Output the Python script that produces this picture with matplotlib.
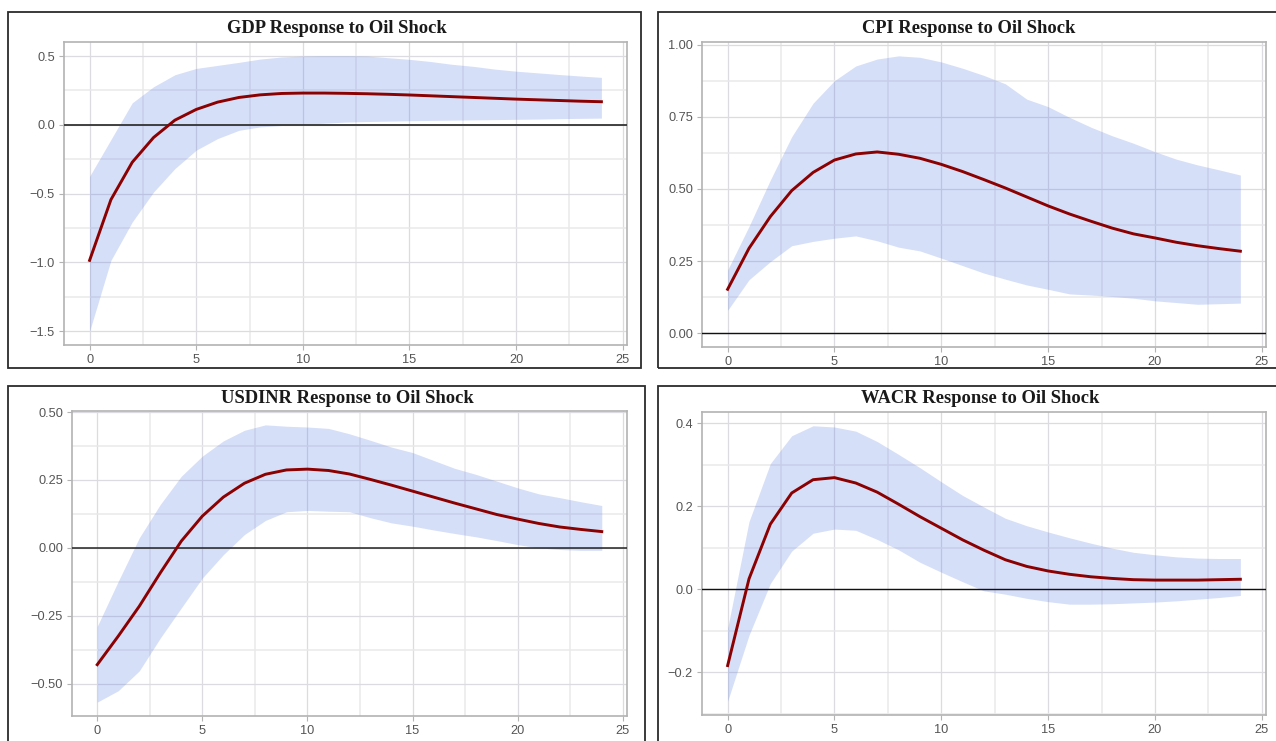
import matplotlib
matplotlib.use("Agg")
import matplotlib.pyplot as plt
from matplotlib.patches import Rectangle

W, H = 1276, 741

horizon = list(range(25))

titles = ["GDP Response to Oil Shock", "CPI Response to Oil Shock",
          "USDINR Response to Oil Shock", "WACR Response to Oil Shock"]

gdp_mean = [-0.985, -0.544, -0.272, -0.092, 0.034, 0.112, 0.165, 0.199, 0.218, 0.228,
            0.231, 0.231, 0.229, 0.226, 0.222, 0.217, 0.211, 0.205, 0.199, 0.193,
            0.187, 0.182, 0.177, 0.172, 0.168]
gdp_lower = [-1.50, -0.985, -0.706, -0.488, -0.318, -0.184, -0.100, -0.040, -0.015, -0.005,
             0.003, 0.012, 0.020, 0.024, 0.027, 0.030, 0.032, 0.034, 0.036, 0.038,
             0.040, 0.042, 0.045, 0.047, 0.049]
gdp_upper = [-0.374, -0.107, 0.160, 0.277, 0.364, 0.410, 0.432, 0.454, 0.478, 0.493,
             0.500, 0.502, 0.502, 0.500, 0.488, 0.476, 0.460, 0.440, 0.425, 0.405,
             0.390, 0.378, 0.366, 0.355, 0.345]

cpi_mean = [0.152, 0.294, 0.404, 0.494, 0.557, 0.600, 0.621, 0.628, 0.620, 0.606,
            0.585, 0.560, 0.532, 0.503, 0.472, 0.441, 0.413, 0.388, 0.364, 0.344,
            0.330, 0.315, 0.303, 0.293, 0.284]
cpi_lower = [0.079, 0.185, 0.248, 0.303, 0.318, 0.329, 0.337, 0.320, 0.298, 0.285,
             0.260, 0.234, 0.208, 0.187, 0.167, 0.152, 0.136, 0.132, 0.127, 0.121,
             0.112, 0.106, 0.100, 0.102, 0.104]
cpi_upper = [0.219, 0.370, 0.531, 0.681, 0.797, 0.875, 0.926, 0.950, 0.961, 0.956,
             0.940, 0.918, 0.893, 0.864, 0.811, 0.785, 0.748, 0.714, 0.684, 0.658,
             0.629, 0.603, 0.583, 0.566, 0.548]

usdinr_mean = [-0.430, -0.325, -0.215, -0.092, 0.025, 0.117, 0.187, 0.238, 0.271, 0.287,
               0.290, 0.285, 0.272, 0.252, 0.231, 0.209, 0.187, 0.165, 0.144, 0.123,
               0.106, 0.090, 0.077, 0.068, 0.060]
usdinr_lower = [-0.568, -0.526, -0.453, -0.332, -0.221, -0.111, -0.025, 0.049, 0.101, 0.133,
                0.138, 0.135, 0.133, 0.111, 0.092, 0.080, 0.066, 0.053, 0.041, 0.027,
                0.012, 0.000, -0.006, -0.009, -0.009]
usdinr_upper = [-0.289, -0.123, 0.037, 0.160, 0.264, 0.338, 0.394, 0.433, 0.453, 0.448,
                0.445, 0.440, 0.420, 0.396, 0.371, 0.351, 0.322, 0.293, 0.271, 0.246,
                0.221, 0.199, 0.185, 0.170, 0.156]

wacr_mean = [-0.184, 0.025, 0.157, 0.232, 0.264, 0.269, 0.256, 0.234, 0.205, 0.175,
             0.147, 0.119, 0.094, 0.071, 0.055, 0.044, 0.036, 0.030, 0.026, 0.023,
             0.022, 0.022, 0.022, 0.023, 0.024]
wacr_lower = [-0.270, -0.111, 0.014, 0.092, 0.135, 0.145, 0.142, 0.120, 0.095, 0.065,
              0.041, 0.018, -0.004, -0.012, -0.022, -0.030, -0.036, -0.036, -0.035, -0.033,
              -0.031, -0.028, -0.024, -0.020, -0.015]
wacr_upper = [-0.094, 0.163, 0.303, 0.370, 0.394, 0.391, 0.381, 0.356, 0.325, 0.293,
              0.259, 0.226, 0.198, 0.171, 0.153, 0.138, 0.124, 0.111, 0.099, 0.089,
              0.083, 0.078, 0.075, 0.074, 0.074]

x_ticks = [0, 5, 10, 15, 20, 25]
x_minor = [2.5, 7.5, 12.5, 17.5, 22.5]
gdp_yticks = [-1.5, -1.0, -0.5, 0.0, 0.5]
cpi_yticks = [0.0, 0.25, 0.5, 0.75, 1.0]
usdinr_yticks = [-0.5, -0.25, 0.0, 0.25, 0.5]
wacr_yticks = [-0.2, 0.0, 0.2, 0.4]

panels = [
    dict(title=titles[0], mean=gdp_mean, lo=gdp_lower, hi=gdp_upper, yt=gdp_yticks, dec=1,
         box=(64, 42, 627, 345), tx=337, ty=33, frame=(8, 12, 641, 368), zc="#333333", zw=1.3),
    dict(title=titles[1], mean=cpi_mean, lo=cpi_lower, hi=cpi_upper, yt=cpi_yticks, dec=2,
         box=(702, 42, 1266, 347), tx=969, ty=33, frame=(658, 12, 1290, 368), zc="#111111", zw=1.0),
    dict(title=titles[2], mean=usdinr_mean, lo=usdinr_lower, hi=usdinr_upper, yt=usdinr_yticks, dec=2,
         box=(72, 411, 627, 716), tx=347, ty=403, frame=(8, 386, 645, 760), zc="#222222", zw=1.1),
    dict(title=titles[3], mean=wacr_mean, lo=wacr_lower, hi=wacr_upper, yt=wacr_yticks, dec=1,
         box=(702, 412, 1266, 715), tx=980, ty=403, frame=(658, 386, 1290, 760), zc="#111111", zw=1.0),
]

fig = plt.figure(figsize=(W / 100, H / 100), dpi=100)
fig.patch.set_facecolor("white")


def fmt(v, d):
    s = f"{abs(v):.{d}f}"
    return ("\u2212" + s) if v < -1e-9 else s


for p in panels:
    l, t, r, b = p["box"]
    ax = fig.add_axes([l / W, 1 - b / H, (r - l) / W, (b - t) / H])
    ax.set_facecolor("white")
    lo_all = min(min(p["lo"]), 0.0)
    hi_all = max(max(p["hi"]), 0.0)
    pad = 0.05 * (hi_all - lo_all)
    ax.set_ylim(lo_all - pad, hi_all + pad)
    ax.set_xlim(-1.2, 25.2)

    yt = p["yt"]
    step = yt[1] - yt[0]
    yminor = [yt[0] - step / 2] + [v + step / 2 for v in yt]
    ymin, ymax = ax.get_ylim()
    yminor = [v for v in yminor if ymin <= v <= ymax]

    ax.set_xticks(x_ticks)
    ax.set_xticklabels([str(v) for v in x_ticks])
    ax.set_xticks(x_minor, minor=True)
    ax.set_yticks(yt)
    ax.set_yticklabels([fmt(v, p["dec"]) for v in yt])
    ax.set_yticks(yminor, minor=True)

    ax.grid(True, which="major", color="#dcdce0", lw=0.9, zorder=0)
    ax.grid(True, which="minor", color="#e9e9eb", lw=1.1, zorder=0)
    ax.set_axisbelow(True)
    ax.tick_params(which="major", length=3.5, width=0.8, color="#b3b3b3",
                   labelsize=9.2, labelcolor="#555555", pad=3)
    ax.tick_params(which="minor", length=0)
    for lab in ax.get_xticklabels() + ax.get_yticklabels():
        lab.set_fontfamily(["Liberation Sans", "DejaVu Sans"])
    for s in ax.spines.values():
        s.set_color("#b3b3b3")
        s.set_linewidth(1.2)

    ax.fill_between(horizon, p["lo"], p["hi"], color="royalblue", alpha=0.21,
                    linewidth=0, zorder=2)
    ax.axhline(0, color=p["zc"], lw=p["zw"], zorder=3)
    ax.plot(horizon, p["mean"], color="#8b0000", lw=2.1, zorder=4,
            solid_joinstyle="round")

    fig.text(p["tx"] / W, 1 - p["ty"] / H, p["title"], ha="center", va="baseline",
             fontsize=13.3, fontweight="bold", color="#1a1a1a",
             family=["Liberation Serif", "DejaVu Serif"])

    fl, ft, fr, fb = p["frame"]
    fig.patches.append(Rectangle((fl / W, 1 - fb / H), (fr - fl) / W, (fb - ft) / H,
                                 transform=fig.transFigure, fill=False,
                                 edgecolor="#2b2b2b", linewidth=1.3, zorder=10))

fig.savefig("out.png", dpi=100, facecolor="white")
